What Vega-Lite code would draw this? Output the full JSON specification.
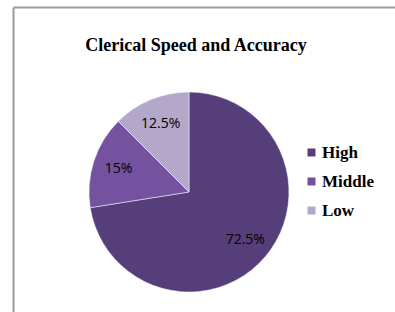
{
  "$schema": "https://vega.github.io/schema/vega-lite/v6.json",
  "width": 352,
  "height": 370,
  "autosize": {"type": "none"},
  "padding": {"left": 13, "top": 7, "right": 30, "bottom": 0},
  "background": "white",
  "config": {
    "view": {"stroke": null},
    "axis": {"domainColor": "#9a9a9a", "domainWidth": 2, "ticks": false, "labels": false, "grid": false, "title": null}
  },
  "title": {
    "text": "Clerical Speed and Accuracy",
    "font": "Liberation Serif",
    "fontSize": 18,
    "fontWeight": "bold",
    "color": "#000000",
    "anchor": "middle",
    "baseline": "alphabetic",
    "offset": -65,
    "dx": 7
  },
  "data": {
    "values": [
      {"level": "High", "pct": 72.5, "rank": 1, "label": "72.5%"},
      {"level": "Middle", "pct": 15, "rank": 2, "label": "15%"},
      {"level": "Low", "pct": 12.5, "rank": 3, "label": "12.5%"}
    ]
  },
  "layer": [
    {
      "mark": {"type": "point", "opacity": 0},
      "encoding": {
        "x": {"field": "pct", "type": "quantitative", "scale": {"range": [0, 382]}, "axis": {"orient": "top"}},
        "y": {"field": "rank", "type": "quantitative", "axis": {"orient": "left"}}
      }
    },
    {
      "mark": {"type": "arc", "outerRadius": 100, "stroke": "#ffffff", "strokeWidth": 0.5},
      "encoding": {
        "theta": {"field": "pct", "type": "quantitative", "stack": true},
        "order": {"field": "rank", "type": "quantitative"},
        "color": {
          "field": "level",
          "type": "nominal",
          "scale": {"domain": ["High", "Middle", "Low"], "range": ["#563e7a", "#7452a0", "#b3a7ca"]},
          "legend": {
            "title": null,
            "orient": "none",
            "legendX": 290,
            "legendY": 137,
            "symbolType": "square",
            "symbolSize": 64,
            "symbolStrokeWidth": 0,
            "labelFont": "Liberation Serif",
            "labelFontSize": 17,
            "labelFontWeight": "bold",
            "labelColor": "#000000",
            "labelOffset": 2,
            "rowPadding": 11
          }
        }
      }
    },
    {
      "mark": {"type": "text", "radius": 74, "font": "Open Sans", "fontSize": 14, "color": "#000000"},
      "encoding": {
        "theta": {"field": "pct", "type": "quantitative", "stack": true},
        "order": {"field": "rank", "type": "quantitative"},
        "detail": {"field": "level", "type": "nominal"},
        "text": {"field": "label", "type": "nominal"}
      }
    }
  ]
}
